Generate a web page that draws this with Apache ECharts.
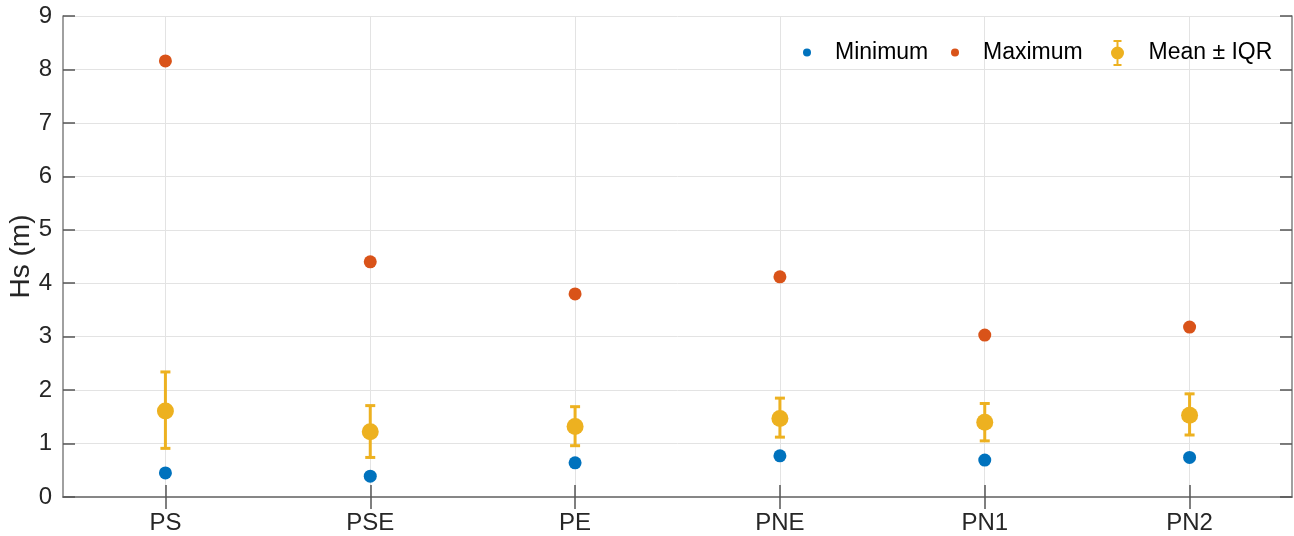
<!DOCTYPE html>
<html>
<head>
<meta charset="utf-8">
<script src="https://cdn.jsdelivr.net/npm/echarts@6/dist/echarts.min.js"></script>
<style>
html,body{margin:0;padding:0;background:#fff;}
#chart{width:1294px;height:536px;}
</style>
</head>
<body>
<div id="chart"></div>
<script>
const categories = ['PS', 'PSE', 'PE', 'PNE', 'PN1', 'PN2'];
const minimumValues = [0.45, 0.39, 0.64, 0.77, 0.69, 0.74];
const maximumValues = [8.16, 4.40, 3.80, 4.12, 3.03, 3.18];
const meanValues = [1.61, 1.22, 1.32, 1.47, 1.40, 1.53];
const iqrLow = [0.91, 0.74, 0.96, 1.12, 1.05, 1.16];
const iqrHigh = [2.34, 1.71, 1.69, 1.85, 1.75, 1.93];
const yTicks = [0, 1, 2, 3, 4, 5, 6, 7, 8, 9];

const BLUE = '#0072BD', ORANGE = '#D95319', YELLOW = '#EDB120';
const AXIS = '#808080', GRID = '#e3e3e3', TEXT = '#262626';
const FONT = '"Liberation Sans", Arial, Helvetica, sans-serif';

const errData = categories.map((c, i) => [i, iqrLow[i], iqrHigh[i]]);

const chart = echarts.init(document.getElementById('chart'), null, {renderer: 'canvas'});

const errIcon = 'path://M2.5,0 H10.5 V2 H7.5 V24 H10.5 V26 H2.5 V24 H5.5 V2 H2.5 Z M0,13 A6.5,6.5 0 1 1 13,13 A6.5,6.5 0 1 1 0,13 Z';

chart.setOption({
  animation: false,
  backgroundColor: '#fff',
  textStyle: {fontFamily: FONT},
  grid: {left: 63, right: 2, top: 16, bottom: 39, containLabel: false, outerBoundsMode: 'none'},
  legend: [
    {
      data: [{name: 'Minimum', icon: 'circle'}],
      left: 803, top: 41, itemWidth: 46, itemHeight: 8, padding: 0,
      textStyle: {fontSize: 23, color: '#000', fontFamily: FONT}
    },
    {
      data: [{name: 'Maximum', icon: 'circle'}],
      left: 951, top: 41, itemWidth: 46, itemHeight: 8, padding: 0,
      textStyle: {fontSize: 23, color: '#000', fontFamily: FONT}
    },
    {
      data: [{name: 'Mean ± IQR', icon: errIcon}],
      left: 1111, top: 40, itemWidth: 52, itemHeight: 26, padding: 0,
      textStyle: {fontSize: 23, color: '#000', fontFamily: FONT}
    }
  ],
  xAxis: [
    {
      type: 'category', data: categories, position: 'bottom', boundaryGap: true,
      axisLine: {show: true, lineStyle: {color: AXIS, width: 1.5}},
      axisTick: {show: true, inside: true, length: 12, alignWithLabel: true, lineStyle: {color: '#555', width: 1.5}},
      axisLabel: {fontSize: 24, color: TEXT, margin: 14, fontFamily: FONT},
      splitLine: {show: true, alignWithLabel: true, lineStyle: {color: GRID, width: 1}}
    },
    {
      type: 'category', data: categories, position: 'top', boundaryGap: true,
      axisLine: {show: true, lineStyle: {color: AXIS, width: 1.5}},
      axisTick: {show: true, inside: true, length: 12, alignWithLabel: true, lineStyle: {color: '#555', width: 1.5}},
      axisLabel: {show: false},
      splitLine: {show: false}
    }
  ],
  yAxis: [
    {
      type: 'value', min: 0, max: 9, interval: 1, position: 'left',
      name: 'Hs (m)', nameLocation: 'middle', nameGap: 28, nameRotate: 90, nameMoveOverlap: false,
      nameTextStyle: {fontSize: 28, color: TEXT, fontFamily: FONT},
      axisLine: {show: true, lineStyle: {color: AXIS, width: 1.5}},
      axisTick: {show: true, inside: true, length: 12, lineStyle: {color: '#555', width: 1.5}},
      axisLabel: {fontSize: 24, color: TEXT, margin: 11, fontFamily: FONT,
        formatter: v => yTicks.includes(v) ? String(v) : ''},
      splitLine: {show: true, lineStyle: {color: GRID, width: 1}}
    },
    {
      type: 'value', min: 0, max: 9, interval: 1, position: 'right',
      axisLine: {show: true, lineStyle: {color: AXIS, width: 1.5}},
      axisTick: {show: true, inside: true, length: 12, lineStyle: {color: '#555', width: 1.5}},
      axisLabel: {show: false},
      splitLine: {show: false}
    }
  ],
  series: [
    {
      name: 'Minimum', type: 'scatter', data: minimumValues,
      symbol: 'circle', symbolSize: 13, itemStyle: {color: BLUE, opacity: 1}, z: 5
    },
    {
      name: 'Maximum', type: 'scatter', data: maximumValues,
      symbol: 'circle', symbolSize: 13, itemStyle: {color: ORANGE, opacity: 1}, z: 5
    },
    {
      name: 'Mean ± IQR', type: 'custom', data: errData, z: 3,
      itemStyle: {color: YELLOW},
      encode: {x: 0, y: [1, 2]},
      renderItem: function (params, api) {
        const x = api.value(0);
        const lo = api.coord([x, api.value(1)]);
        const hi = api.coord([x, api.value(2)]);
        const cap = 5;
        const style = {stroke: YELLOW, lineWidth: 3, fill: null};
        return {
          type: 'group',
          children: [
            {type: 'line', shape: {x1: lo[0], y1: lo[1], x2: hi[0], y2: hi[1]}, style: style},
            {type: 'line', shape: {x1: lo[0] - cap, y1: lo[1], x2: lo[0] + cap, y2: lo[1]}, style: style},
            {type: 'line', shape: {x1: hi[0] - cap, y1: hi[1], x2: hi[0] + cap, y2: hi[1]}, style: style}
          ]
        };
      }
    },
    {
      name: 'Mean ± IQR', type: 'scatter', data: meanValues,
      symbol: 'circle', symbolSize: 17, itemStyle: {color: YELLOW, opacity: 1}, z: 4
    }
  ]
});
</script>
</body>
</html>
